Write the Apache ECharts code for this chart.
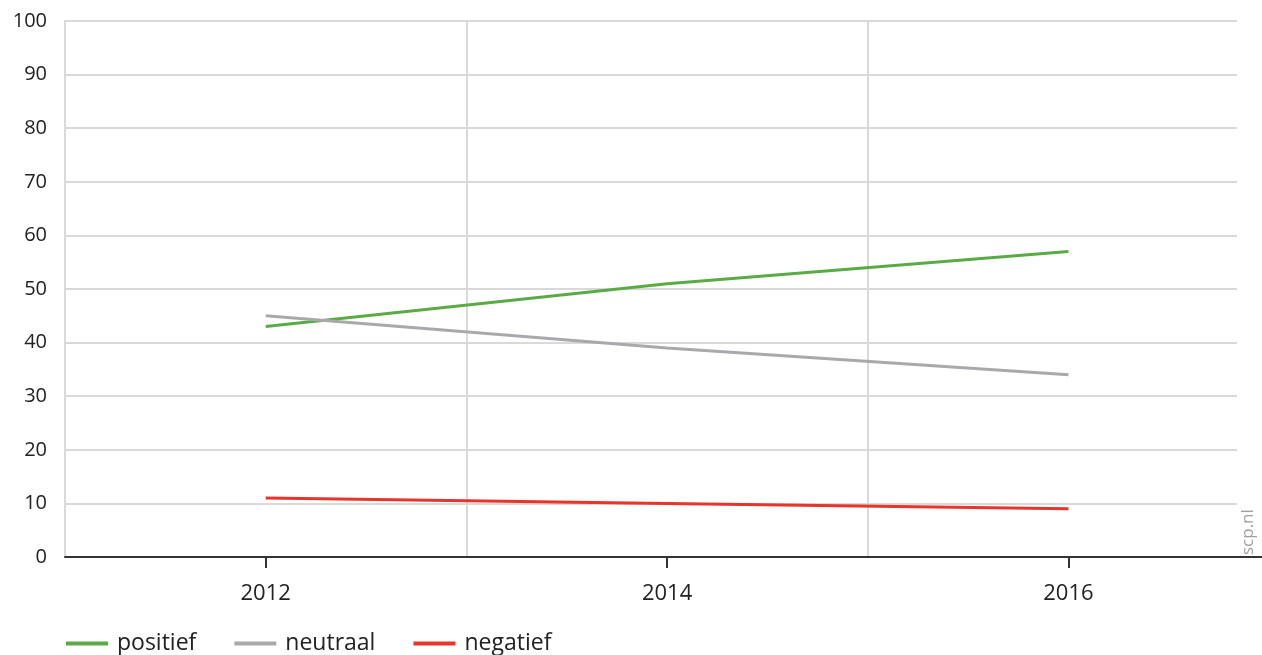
<!DOCTYPE html>
<html>
<head>
<meta charset="utf-8">
<style>
  html, body { margin: 0; padding: 0; background: #fff; }
  #chart { width: 1262px; height: 655px; }
</style>
<script src="https://cdn.jsdelivr.net/npm/echarts@6/dist/echarts.min.js"></script>
</head>
<body>
<div id="chart"></div>
<script>
// years and values
const years = [2012, 2014, 2016];
const positief = [43, 51, 57];
const neutraal = [45, 39, 34];
const negatief = [11, 10, 9];
const yTicks = [0, 10, 20, 30, 40, 50, 60, 70, 80, 90, 100];

const textColor = '#222222';
const gridColor = '#d9d9d9';
const font = 'Open Sans';

function pairs(vals) {
    return years.map((y, i) => [y, vals[i]]);
}

const myChart = echarts.init(document.getElementById('chart'));
myChart.setOption({
    animation: false,
    textStyle: { fontFamily: font },
    grid: [
        { left: 65, right: 25, top: 21, bottom: 98 },
        // only carries the long dark baseline
        { left: 65, right: 0, bottom: 98, height: 10 }
    ],
    legend: {
        left: 61,
        top: 627,
        icon: 'rect',
        itemWidth: 42,
        itemHeight: 4,
        itemGap: 38,
        textStyle: { color: textColor, fontSize: 23, fontFamily: font, padding: [0, 0, 0, 4] },
        data: ['positief', 'neutraal', 'negatief']
    },
    xAxis: [
        {
            type: 'value',
            gridIndex: 0,
            min: 2011,
            max: 2016.84,
            axisLine: { show: false },
            axisTick: {
                show: true,
                length: 11,
                customValues: years,
                lineStyle: { color: '#333', width: 2 }
            },
            axisLabel: {
                customValues: years,
                color: textColor,
                fontSize: 22,
                margin: 26,
                formatter: v => String(v)
            },
            splitLine: { show: false }
        },
        {
            // odd-year separators
            type: 'value',
            gridIndex: 0,
            min: 2011,
            max: 2016.84,
            interval: 2,
            position: 'bottom',
            axisLine: { show: false },
            axisTick: { show: false },
            axisLabel: { show: false },
            splitLine: { show: true, showMaxLine: false, lineStyle: { color: gridColor, width: 2 } }
        },
        {
            type: 'value',
            gridIndex: 1,
            min: 0,
            max: 1,
            axisLine: { show: true, onZero: false, lineStyle: { color: '#333', width: 2 } },
            axisTick: { show: false },
            axisLabel: { show: false },
            splitLine: { show: false }
        }
    ],
    yAxis: [
        {
            type: 'value',
            gridIndex: 0,
            min: 0,
            max: 100,
            interval: 10,
            axisLine: { show: true, lineStyle: { color: gridColor, width: 2 } },
            axisTick: { show: false },
            axisLabel: {
                color: textColor,
                fontSize: 20,
                margin: 18,
                formatter: v => yTicks.includes(v) ? String(v) : ''
            },
            splitLine: { show: true, lineStyle: { color: gridColor, width: 2 } }
        },
        { type: 'value', gridIndex: 1, show: false }
    ],
    graphic: [
        {
            type: 'text',
            x: 1257,
            y: 555,
            rotation: Math.PI / 2,
            style: {
                text: 'scp.nl',
                fill: '#a0a0a0',
                font: '17px "Open Sans"',
                align: 'left',
                verticalAlign: 'bottom'
            }
        }
    ],
    series: [
        {
            name: 'positief',
            type: 'line',
            data: pairs(positief),
            showSymbol: false,
            color: '#5aab46',
            lineStyle: { width: 3 }
        },
        {
            name: 'neutraal',
            type: 'line',
            data: pairs(neutraal),
            showSymbol: false,
            color: '#a9a9ac',
            lineStyle: { width: 3 }
        },
        {
            name: 'negatief',
            type: 'line',
            data: pairs(negatief),
            showSymbol: false,
            color: '#e8342a',
            lineStyle: { width: 3 }
        }
    ]
});
</script>
</body>
</html>
